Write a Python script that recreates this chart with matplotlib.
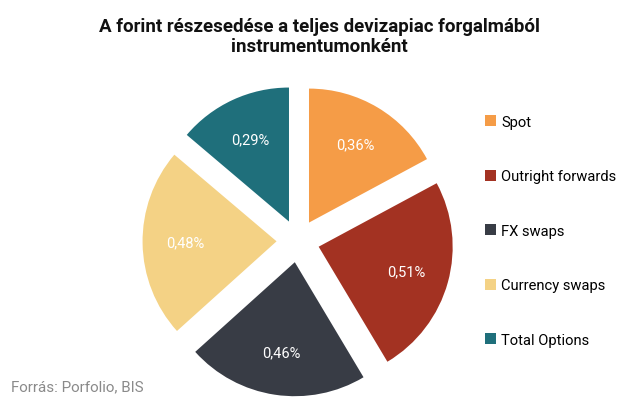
import matplotlib
matplotlib.use("Agg")
import matplotlib.pyplot as plt
from matplotlib.patches import Patch

categories = ["Spot", "Outright forwards", "FX swaps", "Currency swaps", "Total Options"]
values = [0.36, 0.51, 0.46, 0.48, 0.29]
value_labels = ["0,36%", "0,51%", "0,46%", "0,48%", "0,29%"]
colors = ["#F59C47", "#A33222", "#383C45", "#F4D285", "#1F6F7B"]

plt.rcParams['font.family'] = ['Roboto', 'DejaVu Sans']

W, H = 636, 402
fig = plt.figure(figsize=(W / 100, H / 100), dpi=100)

# pie axes: center at (298, 242) px, radius 134 px
r_px = 134
lim = 1.3
size_px = 2 * lim * r_px
cx, cy = 298, 242
ax = fig.add_axes([(cx - size_px / 2) / W, (H - cy - size_px / 2) / H, size_px / W, size_px / H])

labels_iter = iter(value_labels)
wedges, texts, autotexts = ax.pie(
    values, colors=colors, startangle=90, counterclock=False,
    explode=[0.16] * len(values), pctdistance=0.68,
    autopct=lambda p: next(labels_iter),
    textprops=dict(color="white", fontsize=10.5),
    wedgeprops=dict(linewidth=0))
ax.set_xlim(-lim, lim)
ax.set_ylim(-lim, lim)
ax.set_aspect("equal")
ax.axis("off")

handles = [Patch(facecolor=c, edgecolor="none") for c in colors]
fig.legend(handles, categories, loc="upper left", bbox_to_anchor=(485 / W, 1 - 116 / H),
           frameon=False, fontsize=10.6, labelspacing=2.75, handlelength=0.75, handleheight=0.75,
           handletextpad=0.35, borderaxespad=0, borderpad=0)

fig.text(319 / W, 1 - 37 / H, "A forint részesedése a teljes devizapiac forgalmából\ninstrumentumonként",
         ha="center", va="center", fontsize=13.5, fontweight="bold", color="#111111", linespacing=1.2)
fig.text(11 / W, 1 - 387 / H, "Forrás: Porfolio, BIS", ha="left", va="center",
         fontsize=10.9, color="#8A8A8A")

fig.savefig("out.png", dpi=100)
